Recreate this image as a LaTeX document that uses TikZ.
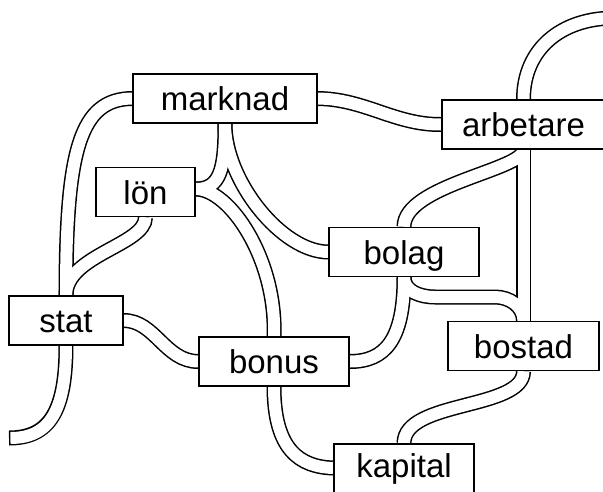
\documentclass[tikz,border=0pt]{standalone}
\usepackage{fontspec}
\setmainfont{Liberation Sans}
\usetikzlibrary{backgrounds}
\tikzset{
  ord/.style={draw, fill=white, line width=1.4pt, inner sep=0pt,
    minimum height=49pt, text height=24pt, text depth=0pt,
    font=\fontsize{33}{40}\selectfont},
}

\begin{document}
\begin{tikzpicture}[x=1pt,y=-1pt]
\useasboundingbox (0,0) rectangle (603,491);
\node[ord, minimum width=184pt] (marknad) at (225,98.5) {marknad};
\node[ord, minimum width=163pt] (arbetare) at (523.5,124.5) {arbetare};
\node[ord, minimum width=99pt] (lon) at (145.5,192) {lön};
\node[ord, minimum width=150pt] (bolag) at (404,252) {bolag};
\node[ord, minimum width=114pt] (stat) at (66,320.5) {stat};
\node[ord, minimum width=151pt] (bostad) at (523.5,346) {bostad};
\node[ord, minimum width=150pt] (bonus) at (274,361.5) {bonus};
\node[ord, minimum width=140pt, minimum height=56pt, text depth=14pt] (kapital) at (404,472) {kapital};
\coordinate (slut) at (9,438);
\coordinate (topp) at (615,18);
\begin{pgfonlayer}{background}
\foreach \col/\wd/\sh in {black/15/0,white/12/1.4}{
\begin{scope}[color=\col, line width=\wd pt]
\draw[shorten <=\sh pt] (slut) .. controls (50,438) and (66,410) .. (stat.south);
\draw (stat.north) .. controls (66,150) and (80,99) .. (marknad.west);
\draw (lon.south) .. controls (145.5,245) and (66,255) .. (stat.north);
\draw ([yshift=3pt]lon.east) .. controls (220,189) and (225,170) .. (marknad.south);
\draw ([yshift=3pt]lon.east) .. controls (230,189) and (277,260) .. (bonus.north);
\draw (marknad.south) .. controls (225,181) and (282,252) .. (bolag.west);
\draw (marknad.east) .. controls (365,99) and (395,125) .. (arbetare.west);
\draw (arbetare.north) .. controls (523.5,50) and (560,18) .. (topp);
\draw (arbetare.south) -- (bostad.north);
\draw (arbetare.south) .. controls (523.5,170) and (404,185) .. (bolag.north);
\draw (bolag.south) to[out=-90,in=180] (435,297) -- (495,297) to[out=0,in=90] (bostad.north);
\draw (bolag.south) .. controls (404,340) and (385,361.5) .. (bonus.east);
\draw (bostad.south) .. controls (523.5,410) and (404,400) .. (kapital.north);
\draw (bonus.south) .. controls (274,450) and (300,467) .. ([yshift=4pt]kapital.west);
\draw (stat.east) .. controls (155,320.5) and (165,361.5) .. (bonus.west);
\end{scope}
}
\end{pgfonlayer}
\end{tikzpicture}
\end{document}
